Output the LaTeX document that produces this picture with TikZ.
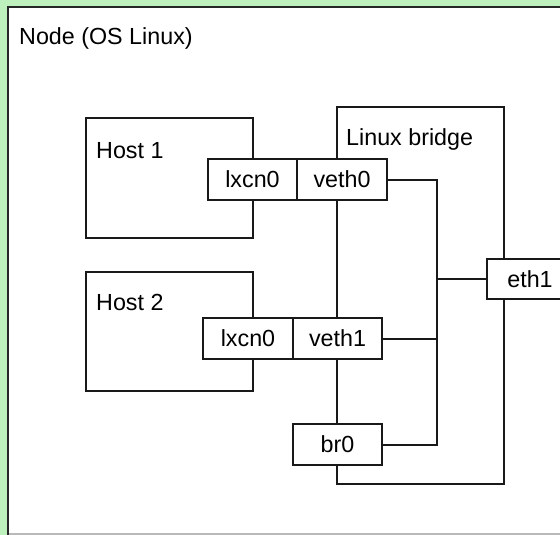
\documentclass[tikz,border=0pt]{standalone}
\usepackage{fontspec}
\setmainfont{Liberation Sans}
\usetikzlibrary{positioning}
\definecolor{bggreen}{RGB}{190,240,190}
\definecolor{framegray}{RGB}{185,185,185}
\tikzset{
  ln/.style={line width=2pt, draw=black!90},
  box/.style={ln, fill=white, rectangle, inner sep=0pt, minimum height=41pt},
  txt/.style={inner sep=0pt, anchor=base west, font=\fontsize{23.3}{27}\selectfont},
  boxtxt/.style={font=\fontsize{23.3}{27}\selectfont}
}
\begin{document}
\begin{tikzpicture}[x=1pt,y=-1pt]
\useasboundingbox (0,0) rectangle (560,535);
% background and frame
\fill[bggreen] (0,0) rectangle (560,535);
\fill[white] (8,7) rectangle (570,545);
\draw[framegray, line width=1.2pt] (9,534) -- (570,534);
\draw[line width=2.2pt, draw=black!85] (8,545) -- (8,7) -- (570,7);
\node[txt] (nodelbl) at (19,45) {Node (OS Linux)};
% Linux bridge
\node[ln, rectangle, inner sep=0pt, minimum width=167pt, minimum height=377pt] (bridge) at (420.5,295.5) {};
\node[txt] (bridgelbl) at (346,145) {Linux bridge};
% Hosts
\node[ln, rectangle, inner sep=0pt, minimum width=167pt, minimum height=120pt] (host1) at (169.5,178) {};
\node[txt] (host1lbl) at (96,158) {Host 1};
\node[ln, rectangle, inner sep=0pt, minimum width=167pt, minimum height=119pt] (host2) at (169.5,331.5) {};
\node[txt] (host2lbl) at (96,310) {Host 2};
% interfaces
\node[box, boxtxt, minimum width=89pt] (lx1) at (252.5,179.5) {lxcn0};
\node[box, boxtxt, minimum width=90pt] (veth0) at (342,179.5) {veth0};
\node[box, boxtxt, minimum width=90pt] (lx2) at (248,338.5) {lxcn0};
\node[box, boxtxt, minimum width=89pt] (veth1) at (337.5,338.5) {veth1};
\node[box, boxtxt, minimum width=89pt] (br0) at (337.5,444.5) {br0};
\node[box, boxtxt, minimum width=86pt, minimum height=40pt] (eth1) at (530,279) {eth1};
% connectors
\coordinate (bus) at (437,300);
\draw[ln] (veth0.east) -| (bus |- br0.east) -- (br0.east);
\draw[ln] (veth1.east) -- (veth1.east -| bus);
\draw[ln] (eth1.west) -- (eth1.west -| bus);
\end{tikzpicture}
\end{document}
